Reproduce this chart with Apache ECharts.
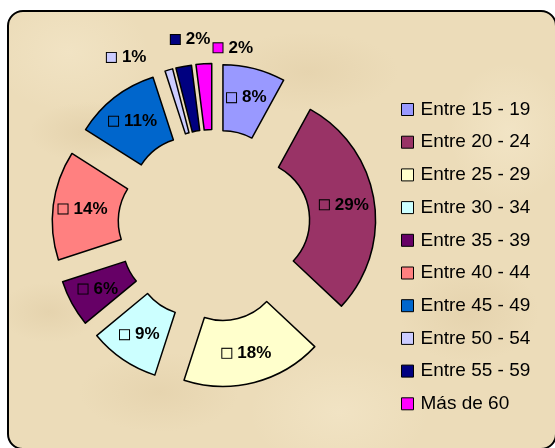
<!DOCTYPE html>
<html>
<head>
<meta charset="utf-8">
<script src="https://cdn.jsdelivr.net/npm/echarts@6/dist/echarts.min.js"></script>
<style>
  html, body { margin:0; padding:0; background:#fff; }
  #frame {
    position:absolute; left:7px; top:10px; width:550px; height:440px;
    box-sizing:border-box; border:2px solid #000; border-radius:16px;
    background-color:#ecdcb9;
    background-image:
      radial-gradient(ellipse 60px 30px at 80px 120px, rgba(205,180,135,0.25), transparent),
      radial-gradient(ellipse 90px 40px at 300px 60px, rgba(210,185,140,0.22), transparent),
      radial-gradient(ellipse 70px 50px at 460px 300px, rgba(205,180,135,0.22), transparent),
      radial-gradient(ellipse 80px 40px at 150px 380px, rgba(210,185,140,0.22), transparent),
      radial-gradient(ellipse 50px 30px at 40px 300px, rgba(205,180,135,0.22), transparent),
      radial-gradient(ellipse 60px 70px at 500px 120px, rgba(250,240,215,0.40), transparent),
      radial-gradient(ellipse 90px 60px at 330px 400px, rgba(250,240,215,0.35), transparent),
      radial-gradient(ellipse 80px 60px at 60px 40px, rgba(250,240,215,0.35), transparent);
    overflow:hidden;
  }
  #main { position:absolute; left:0; top:0; width:555px; height:448px; }
</style>
</head>
<body>
<div id="frame"></div>
<div id="main"></div>
<script>
var categories = ['Entre 15 - 19','Entre 20 - 24','Entre 25 - 29','Entre 30 - 34','Entre 35 - 39',
                  'Entre 40 - 44','Entre 45 - 49','Entre 50 - 54','Entre 55 - 59','Más de 60'];
var values = [8, 29, 18, 9, 6, 14, 11, 1, 2, 2];
var colors = ['#9999FF','#993366','#FFFFCC','#CCFFFF','#660066',
              '#FF8080','#0066CC','#CCCCFF','#000080','#FF00FF'];

// nudges for the three outside labels so they don't pile up
var labelNudge = { 7: [-14, -1], 8: [34, -15], 9: [55, -4] };

var chart = echarts.init(document.getElementById('main'), null, {renderer:'canvas'});

var data = categories.map(function(name, i){
  var small = values[i] < 5;
  return {
    name: name,
    value: values[i],
    selected: true,
    itemStyle: { color: colors[i] },
    label: {
      position: small ? 'outside' : 'inside',
      formatter: '{k|}{s|}' + values[i] + '%',
      rich: {
        k: { width: 9, height: 9, backgroundColor: colors[i], borderColor: '#000', borderWidth: 1 },
        s: { width: 6 }
      }
    },
    labelLine: { show: false, length: 12, length2: 0 }
  };
});

chart.setOption({
  backgroundColor: 'transparent',
  animation: false,
  color: colors,
  legend: {
    orient: 'vertical',
    left: 401,
    top: 100,
    padding: 0,
    itemWidth: 12,
    itemHeight: 12,
    itemGap: 13.7,
    icon: 'rect',
    itemStyle: { borderColor: '#000', borderWidth: 1 },
    textStyle: { fontFamily: 'Liberation Sans, Arial, sans-serif', fontSize: 19, lineHeight: 19, color: '#000', padding: [0,0,0,2] },
    data: categories
  },
  series: [{
    type: 'pie',
    center: [214, 225.5],
    radius: [60, 126],
    startAngle: 90,
    clockwise: true,
    selectedMode: 'multiple',
    selectedOffset: 36,
    avoidLabelOverlap: false,
    emphasis: { disabled: true },
    itemStyle: { borderColor: '#000', borderWidth: 1.5 },
    label: {
      color: '#000',
      fontFamily: 'Liberation Sans, Arial, sans-serif',
      fontSize: 17,
      fontWeight: 'bold'
    },
    labelLayout: function(p){
      var n = labelNudge[p.dataIndex];
      if (n) return { dx: n[0], dy: n[1], hideOverlap: false };
      return { hideOverlap: false };
    },
    data: data
  }]
});
</script>
</body>
</html>
